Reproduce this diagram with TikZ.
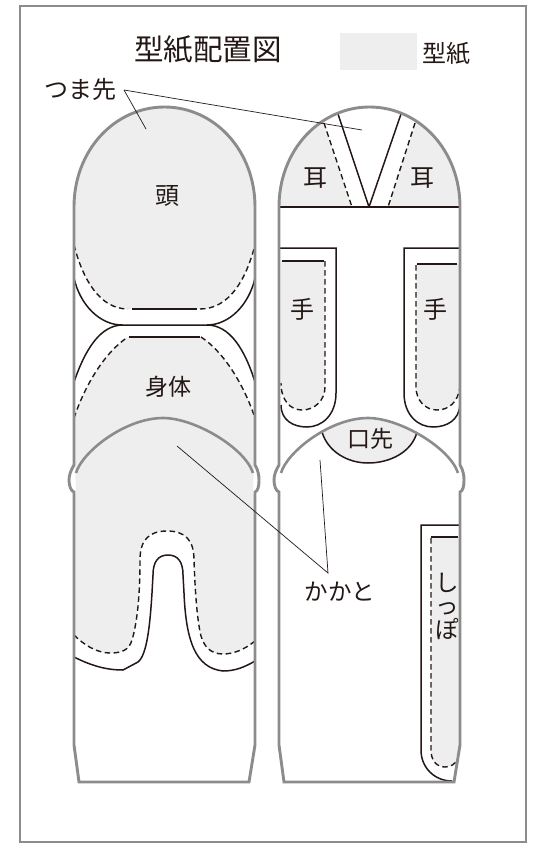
\documentclass[tikz,border=0pt]{standalone}
\usepackage{fontspec}
\setmainfont{Noto Sans CJK JP}
\definecolor{ink}{HTML}{231815}
\definecolor{edge}{HTML}{8C8C8C}
\definecolor{paper}{HTML}{EEEEEE}
\tikzset{
  outline/.style={draw=edge,line width=2.9pt,line join=miter},
  cutline/.style={draw=ink,line width=1.5pt},
  sewline/.style={draw=ink,line width=1.4pt,dash pattern=on 5.5pt off 3.5pt},
  leader/.style={draw=ink,line width=0.7pt},
  piece/.style={fill=paper,draw=none},
  lbl/.style={text=ink,inner sep=0pt,font=\fontsize{#1}{#1}\selectfont},
}
\def\bodylowrest{.. controls (244,650) and (233,654) .. (223,654) .. controls (210,654) and (204,646) .. (201,636) .. controls (197,620) and (195,590) .. (194,560) .. controls (194,540) and (185,531) .. (167,531) .. controls (149,531) and (140,540) .. (140,560) .. controls (140,590) and (138,620) .. (132,640) .. controls (129,650) and (122,653) .. (110,653) .. controls (97,653) and (84,645) .. (74,635)}
\def\heelarc{(76,473) .. controls (82,452) and (125,418) .. (163,418) .. controls (195,418) and (245,448) .. (253,473)}
\def\column{(0,207) .. controls (0,150) and (41,107) .. (90.5,107) .. controls (140,107) and (181,150) .. (181,207) -- (181,465) .. controls (184,470) and (185,475) .. (185,480) .. controls (185,486) and (184,491) .. (181,492) -- (181,745) -- (175,782) -- (5,782) -- (0,745) -- (0,492) .. controls (-3,491) and (-5,486) .. (-5,480) .. controls (-5,475) and (-3,470) .. (0,465) -- cycle}
\begin{document}
\begin{tikzpicture}[x=1pt,y=-1pt]
\useasboundingbox (0,0) rectangle (536,843);
% anchors for leaders
\coordinate (tsumaJoin) at (124,90);
\coordinate (tsumaA) at (146,129);
\coordinate (tsumaB) at (362,130);
\coordinate (heelJoin) at (328,573);
\coordinate (heelA) at (177,446);
\coordinate (heelB) at (320,460);
% frame
\draw[outline] (20,6) rectangle (526,842);
% legend
\fill[paper] (340,33) rectangle (417,70);
% ---- left column fills
\fill[piece] (74,245) .. controls (83,280) and (100,309) .. (128,309) -- (200,309) .. controls (229,309) and (246,280) .. (255,245) -- (255,207) .. controls (255,150) and (214,107) .. (164.5,107) .. controls (115,107) and (74,150) .. (74,207) -- cycle;
\fill[piece] (74,418) .. controls (85,385) and (105,352) .. (128,337) -- (201,337) .. controls (224,352) and (244,385) .. (255,418) -- (255,641) \bodylowrest -- cycle;
\fill[white] (70,464) -- (75,464) -- (76,494) -- (70,494) -- cycle;
\fill[white] (254,464) -- (260,464) -- (260,494) -- (253,494) -- cycle;
% ---- right column fills
\begin{scope}
  \clip[xshift=279pt] \column;
  \fill[piece] (279,207) -- (279,100) -- (316.3,100) -- (352,207) -- cycle;
  \fill[piece] (388,207) -- (422.5,100) -- (460,100) -- (460,207) -- cycle;
  \draw[cutline] (369,207) -- (338,114) -- (335.7,107);
  \draw[cutline] (369,207) -- (401,114) -- (403.4,107);
\end{scope}
\fill[piece] (281,261) -- (325,261) -- (325,387) .. controls (325,400) and (315,410) .. (302,410) .. controls (290,410) and (281,400) .. (281,383) -- cycle;
\fill[piece] (460,264) -- (416,264) -- (416,387) .. controls (416,400) and (425,410) .. (437,410) .. controls (449,410) and (458,402) .. (460,387) -- cycle;
\fill[piece] (460,537) -- (431,537) -- (431,750) .. controls (431,761) and (437,767) .. (445,767) .. controls (451,767) and (455,764) .. (458,759) -- (460,745) -- cycle;
\begin{scope}
  \clip (322,432) .. controls (328,452) and (348,463) .. (368,463) .. controls (390,463) and (412,452) .. (417,432) -- (417,400) -- (322,400) -- cycle;
  \begin{scope}[xshift=205pt]
    \fill[piece] \heelarc -- cycle;
  \end{scope}
\end{scope}
% ---- left column lines
\draw[sewline] (74,245) .. controls (83,280) and (100,309) .. (128,309);
\draw[cutline] (132,309) -- (197,309);
\draw[sewline] (200,309) .. controls (229,309) and (246,280) .. (255,245);
\draw[cutline] (74,278) .. controls (80,305) and (100,325) .. (122,325) -- (207,325) .. controls (229,325) and (249,305) .. (255,278);
\draw[cutline] (74,382) .. controls (85,350) and (100,325) .. (123,325);
\draw[cutline] (207,325) .. controls (230,325) and (245,350) .. (255,382);
\draw[sewline] (74,418) .. controls (85,385) and (105,352) .. (128,337);
\draw[cutline] (129,337) -- (200,337);
\draw[sewline] (201,337) .. controls (224,352) and (244,385) .. (255,418);
\draw[sewline] (255,641) \bodylowrest;
\draw[cutline] (74,657) .. controls (90,665) and (105,670) .. (123,670) -- (138,662) .. controls (147,655) and (150,625) .. (152,593) -- (153,575) .. controls (153,562) and (158,555) .. (168,555) .. controls (178,555) and (183,562) .. (183,575) -- (184,593) .. controls (186,640) and (195,668) .. (223,671) .. controls (235,671) and (245,667) .. (255,661);
% ---- right column lines
\draw[cutline] (279,207) -- (460,207);
\draw[sewline] (324,123) -- (352,207);
\draw[sewline] (415,123) -- (388,207);
\draw[cutline] (280,248) -- (336,248) -- (336,393) .. controls (336,415) and (322,427) .. (307,427) .. controls (293,427) and (281,420) .. (281,405);
\draw[cutline] (282,261) -- (324,261);
\draw[sewline] (325,261) -- (325,387) .. controls (325,400) and (315,410) .. (302,410) .. controls (290,410) and (281,400) .. (281,383);
\draw[cutline] (459,248) -- (404,248) -- (404,393) .. controls (404,415) and (418,427) .. (433,427) .. controls (447,427) and (459,420) .. (460,405);
\draw[cutline] (457,264) -- (417,264);
\draw[sewline] (416,265) -- (416,387) .. controls (416,400) and (425,410) .. (437,410) .. controls (449,410) and (458,402) .. (460,387);
\draw[cutline] (459,525) -- (421,525) -- (421,750) .. controls (421,768) and (435,781) .. (452,781);
\draw[cutline] (458,537) -- (431,537);
\draw[sewline] (431,538) -- (431,750) .. controls (431,761) and (437,767) .. (445,767) .. controls (451,767) and (455,764) .. (458,759);
\draw[cutline] (322,432) .. controls (328,452) and (348,463) .. (368,463) .. controls (390,463) and (412,452) .. (417,432);
% ---- outlines
\draw[outline,line width=2.6pt] \heelarc;
\begin{scope}[xshift=205pt]
  \draw[outline,line width=2.6pt] \heelarc;
\end{scope}
\begin{scope}[xshift=74pt]
  \draw[outline] \column;
\end{scope}
\begin{scope}[xshift=279pt]
  \draw[outline] \column;
\end{scope}
% ---- labels
\node[lbl=29.5] (title) at (208,50) {型紙配置図};
\node[lbl=24] (legend) at (446,54) {型紙};
\node[lbl=24] (tsuma) at (80,89) {つま先};
\node[lbl=24] (head) at (167,196) {頭};
\node[lbl=23] (body) at (168,387) {身体};
\node[lbl=24] (earL) at (315,178) {耳};
\node[lbl=24] (earR) at (422,178) {耳};
\node[lbl=24] (handL) at (302,309) {手};
\node[lbl=24] (handR) at (435,309) {手};
\node[lbl=23] (mouth) at (370,439) {口先};
\node[lbl=23.5] (heel) at (340,592) {かかと};
\node[lbl=23.5,align=center] (tail) at (447,606) {し\\っ\\ぽ};
% ---- leaders
\draw[leader] (tsumaJoin) -- (tsumaA);
\draw[leader] (tsumaJoin) -- (tsumaB);
\draw[leader] (heelA) -- (heelJoin) -- (heelB);
\end{tikzpicture}
\end{document}
